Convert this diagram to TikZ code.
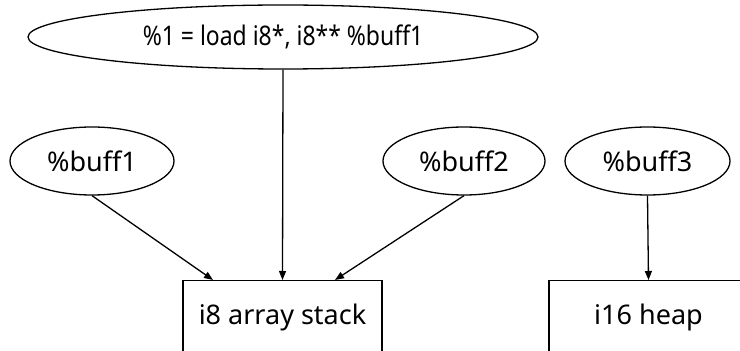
\documentclass[tikz,border=0pt]{standalone}
\usepackage{fontspec}
\setmainfont{Noto Sans}
\usetikzlibrary{shapes.geometric,arrows.meta}
\tikzset{
  ell/.style={ellipse,draw,line width=1.3pt,inner sep=0pt,font=\fontsize{27}{30}\selectfont},
  blk/.style={rectangle,draw,line width=1.3pt,minimum width=199pt,minimum height=74pt,inner sep=0pt,font=\fontsize{27}{30}\selectfont},
  arr/.style={line width=1.3pt,-{Triangle[length=9pt,width=7pt]}}
}
\begin{document}
\begin{tikzpicture}[x=1pt,y=1pt]
\useasboundingbox (0,0) rectangle (740,351);
\clip (0,0) rectangle (740,351);
\node[ell,minimum width=510pt,minimum height=64pt] (load) at (283,314) {\scalebox{0.85}[1]{\%1 = load i8*, i8** \%buff1}};
\node[ell,minimum width=164pt,minimum height=68pt] (b1) at (92,190) {\%buff1};
\node[ell,minimum width=162pt,minimum height=68pt] (b2) at (464,190) {\%buff2};
\node[ell,minimum width=165pt,minimum height=68pt] (b3) at (647.5,190) {\%buff3};
\node[blk,anchor=north] (stack) at (282.5,71) {i8 array stack};
\node[blk,anchor=north] (heap) at (648.5,71) {i16 heap};
\coordinate (s1) at ([xshift=-69.5pt]stack.north);
\coordinate (s3) at ([xshift=52.5pt]stack.north);
\draw[arr] (b1.south) -- (s1);
\draw[arr] (load.south) -- (stack.north);
\draw[arr] (b2.south) -- (s3);
\draw[arr] (b3.south) -- (heap.north);
\end{tikzpicture}
\end{document}
